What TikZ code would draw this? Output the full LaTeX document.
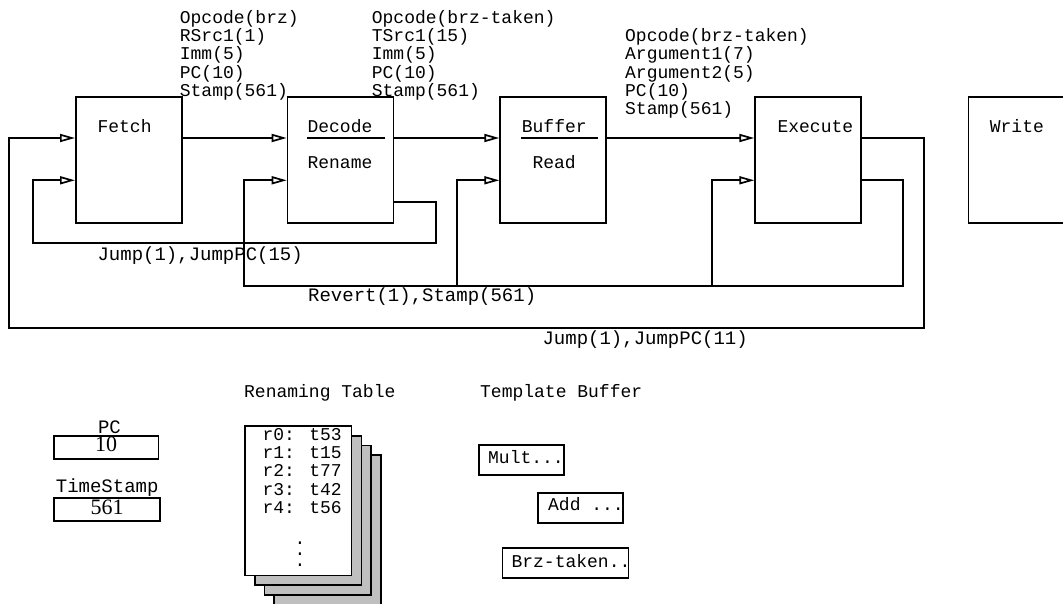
\documentclass[tikz,border=0pt]{standalone}
\usepackage{fontspec}
\usepackage{tikz}
\usetikzlibrary{arrows.meta,calc}
\setmainfont{Liberation Serif}
\newfontfamily\pipefont{Liberation Mono}
\newcommand{\mono}{\pipefont\fontsize{18}{18.3}\selectfont}
\newcommand{\monob}{\pipefont\fontsize{19}{19}\selectfont}
\newcommand{\dotsfont}{\pipefont\fontsize{18}{11}\selectfont}
\newcommand{\numfont}{\rmfamily\fontsize{22}{22}\selectfont}

\begin{document}
\begin{tikzpicture}[x=1pt,y=-1pt,line width=1.7pt,
    estagio/.style={draw,minimum width=106pt,minimum height=126.5pt,anchor=north west,inner sep=0pt},
    txt/.style={font=\mono,anchor=base west,inner sep=0pt,align=left},
    rotulo/.style={txt,font=\monob},
    seta/.style={-{Triangle[open,length=15pt,width=8pt]}},
    caixa/.style={draw,anchor=north west,minimum height=30pt,inner sep=0pt},
    valor/.style={draw,font=\numfont,inner sep=0pt,text depth=5.5pt},
    pagina/.style={draw,fill=black!25,minimum width=106.7pt,minimum height=149.5pt,anchor=north west,inner sep=0pt}]
        \useasboundingbox (0,0) rectangle (1063,604);
        \clip (0,0) rectangle (1063,604);
        % Estagios
        \node[estagio] (fetch) at (75,96) {};
        \node[estagio] (decode) at (286.7,96) {};
        \node[estagio] (buffer) at (499.3,96) {};
        \node[estagio] (execute) at (754.3,96) {};
        \node[estagio] (write) at (967.7,96) {};
        \node[txt] (fetchTxt) at (96.7,132.5) {Fetch};
        \node[txt] (decodeTxt) at (306.7,132.5) {Decode};
        \node[txt] (renameTxt) at (306.7,168.5) {Rename};
        \node[txt] (bufferTxt) at (521,132.5) {Buffer};
        \node[txt] (readTxt) at (531.7,168.5) {Read};
        \node[txt] (executeTxt) at (776.7,132.5) {Execute};
        \node[txt] (writeTxt) at (989,132.5) {Write};
        \draw (306.7,138) -- (385,138);
        \draw (521,138) -- (598.3,138);
        % Sinais entre estagios (ancora na ultima linha)
        \node[txt] (sinalFD) at (179,96.5) {Opcode(brz)\\RSrc1(1)\\Imm(5)\\PC(10)\\Stamp(561)};
        \node[txt] (sinalDB) at (371,96.5) {Opcode(brz-taken)\\TSrc1(15)\\Imm(5)\\PC(10)\\Stamp(561)};
        \node[txt] (sinalBE) at (624.3,114.8) {Opcode(brz-taken)\\Argument1(7)\\Argument2(5)\\PC(10)\\Stamp(561)};
        % Fluxo principal
        \coordinate (rowA) at (0,138);
        \coordinate (rowB) at (0,180.3);
        \draw[seta] (fetch.east |- rowA) -- (decode.west |- rowA);
        \draw[seta] (decode.east |- rowA) -- (buffer.west |- rowA);
        \draw[seta] (buffer.east |- rowA) -- (execute.west |- rowA);
        % Salto do decode
        \draw[seta] (decode.east |- 0,201.7) -- (436,201.7) -- (436,243.3)
          -- (32.7,243.3) -- (32.7,180.3) -- (fetch.west |- rowB);
        \node[rotulo] (lblJump15) at (96.7,260) {Jump(1),JumpPC(15)};
        % Revert do execute
        \draw[seta] (execute.east |- rowB) -- (902.7,180.3) -- (902.7,286)
          -- (244.3,286) -- (244.3,180.3) -- (decode.west |- rowB);
        \draw[seta] (457.3,286) -- (457.3,180.3) -- (buffer.west |- rowB);
        \draw[seta] (712.3,286) -- (712.3,180.3) -- (execute.west |- rowB);
        \node[rotulo] (lblRevert) at (307.3,301.5) {Revert(1),Stamp(561)};
        % Salto do execute
        \draw[seta] (execute.east |- rowA) -- (924,138) -- (924,327.7)
          -- (9.3,327.7) -- (9.3,138) -- (fetch.west |- rowA);
        \node[rotulo] (lblJump11) at (541.7,344) {Jump(1),JumpPC(11)};
        % Registradores
        \node[rotulo,anchor=base] (pcTxt) at (109.5,433.3) {PC};
        \node[valor,minimum width=104.3pt,minimum height=23.3pt] (pcBox) at (106.2,447.3) {10};
        \node[rotulo] (tsTxt) at (55,492.7) {TimeStamp};
        \node[valor,minimum width=106pt,minimum height=22.4pt] (tsBox) at (107,509.5) {561};
        % Tabela de renomeacao
        \node[txt] (renTxt) at (243.3,397) {Renaming Table};
        \foreach \i in {3,2,1}
          \node[pagina] (pag\i) at (244+9.8*\i,425+9.8*\i) {};
        \node[pagina,fill=white] (pag0) at (244,425) {};
        \node[txt] (tabela) at (261.7,513.5) {r0: t53\\r1: t15\\r2: t77\\r3: t42\\r4: t56};
        \node[font=\dotsfont,align=center,inner sep=0pt,anchor=base] (pontos) at (300,566) {.\\.\\.};
        % Template buffer
        \node[txt] (tmplTxt) at (479.3,397) {Template Buffer};
        \node[caixa,minimum width=85pt] (mult) at (478.3,444) {};
        \node[txt] (multTxt) at (487.3,463.6) {Mult...};
        \node[caixa,minimum width=85pt] (add) at (537.3,492.3) {};
        \node[txt] (addTxt) at (547.3,510.3) {Add ...};
        \node[caixa,minimum width=126pt] (brz) at (501.7,547.3) {};
        \node[txt] (brzTxt) at (510.7,567) {Brz-taken..};
      \end{tikzpicture}
\end{document}
